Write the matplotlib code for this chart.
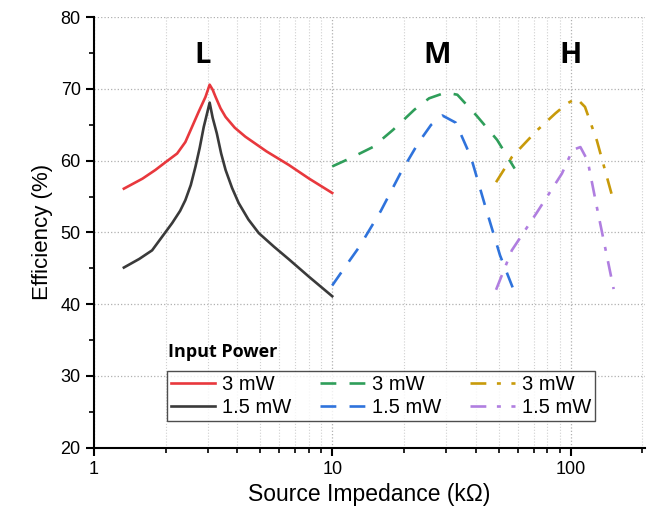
import numpy as np
import matplotlib.pyplot as plt
from matplotlib.ticker import LogLocator, NullFormatter, MultipleLocator, FixedLocator, FixedFormatter

plt.rcParams['font.family'] = ['Liberation Sans', 'DejaVu Sans']

# L band
l_x = [1.336, 1.6, 1.81, 2.0, 2.235, 2.42, 2.58, 2.75, 2.94, 3.06, 3.15, 3.24, 3.4, 3.57, 3.9, 4.32, 5.3, 6.58, 8.0, 10.0]
l_3mw = [56.1, 57.5, 58.7, 59.8, 61.0, 62.6, 64.7, 66.8, 68.9, 70.6, 69.9, 68.9, 67.3, 66.1, 64.6, 63.35, 61.3, 59.4, 57.5, 55.5]
l_x2 = [1.336, 1.55, 1.755, 2.13, 2.3, 2.42, 2.55, 2.67, 2.78, 2.89, 2.98, 3.06, 3.15, 3.28, 3.42, 3.57,
        3.8, 4.05, 4.45, 4.92, 5.7, 6.58, 8.0, 10.0]
l_15mw = [45.1, 46.3, 47.5, 51.3, 53.0, 54.5, 56.6, 59.2, 61.8, 64.7, 66.5, 68.1, 66.0, 63.8, 61.0, 58.7,
          56.2, 54.1, 51.8, 49.9, 48.0, 46.25, 43.8, 41.1]

# M band
m_x = [10.0, 12.0, 14.8, 18.0, 22.1, 25.5, 29.9, 33.5, 40.3, 49.2, 58.3]
m_3mw = [59.2, 60.4, 61.9, 64.3, 67.1, 68.7, 69.5, 69.2, 66.3, 62.9, 58.9]
m_x2 = [10.0, 11.5, 13.0, 16.0, 19.3, 23.0, 26.0, 29.0, 33.0, 38.2, 44.0, 50.6, 58.3]
m_15mw = [42.6, 45.5, 48.0, 53.0, 58.2, 62.5, 65.0, 66.3, 65.3, 60.5, 53.5, 46.8, 41.6]

# H band
h_x = [48.7, 56.7, 72.2, 86.4, 97.0, 106.0, 115.0, 129.0, 151.7]
h_3mw = [57.0, 60.5, 64.2, 66.6, 68.0, 68.7, 67.5, 62.8, 54.3]
h_x2 = [48.7, 56.7, 72.0, 92.0, 102.0, 110.0, 118.0, 129.0, 151.7]
h_15mw = [42.0, 47.5, 52.7, 58.2, 61.5, 61.9, 60.0, 53.5, 42.1]

band_labels = ['L', 'M', 'H']
band_pos = [2.85, 27.5, 100.0]
xtick_vals = [1, 10, 100]
xtick_labels = ['1', '10', '100']

fig = plt.figure(figsize=(6.52, 5.08), dpi=100)
ax = fig.add_axes([0.144, 0.119, 0.845, 0.847])

lw = 1.9
ax.plot(l_x, l_3mw, color='#e8383d', lw=lw, label='3 mW')
ax.plot(l_x2, l_15mw, color='#3a3a3a', lw=lw, label='1.5 mW')
ax.plot(m_x, m_3mw, color='#2f9e5a', lw=lw, dashes=(6, 5), label='3 mW')
ax.plot(m_x2, m_15mw, color='#2f73dc', lw=lw, dashes=(6, 5), label='1.5 mW')
ax.plot(h_x, h_3mw, color='#c89a0a', lw=lw, dashes=(6, 4, 1.5, 4), label='3 mW')
ax.plot(h_x2, h_15mw, color='#b07ee0', lw=lw, dashes=(6, 4, 1.5, 4), label='1.5 mW')

ax.set_xscale('log')
ax.set_xlim(1, 205)
ax.set_ylim(20, 80)

ax.xaxis.set_major_locator(FixedLocator(xtick_vals))
ax.xaxis.set_major_formatter(FixedFormatter(xtick_labels))
ax.xaxis.set_minor_locator(LogLocator(base=10, subs=np.arange(2, 10)))
ax.xaxis.set_minor_formatter(NullFormatter())
ax.yaxis.set_major_locator(MultipleLocator(10))
ax.yaxis.set_minor_locator(MultipleLocator(5))

ax.tick_params(which='major', direction='out', length=6, width=1.5, labelsize=13)
ax.tick_params(which='minor', direction='out', length=3.5, width=1.2)

for s in ['top', 'right']:
    ax.spines[s].set_visible(False)
for s in ['left', 'bottom']:
    ax.spines[s].set_linewidth(1.5)

ax.grid(which='major', axis='both', color='#b0b0b0', ls=':', lw=0.9)
ax.grid(which='minor', axis='x', color='#d0d0d0', ls=':', lw=0.8)
ax.set_axisbelow(True)

ax.set_xlabel('Source Impedance (kΩ)', fontsize=16.5, labelpad=4)
ax.set_ylabel('Efficiency (%)', fontsize=16, labelpad=5)

for lab, xp in zip(band_labels, band_pos):
    ax.text(xp, 74.7, lab, fontsize=21, fontweight='bold', family=['Open Sans', 'DejaVu Sans'],
            ha='center', va='center')

leg = ax.legend(ncol=3, loc='lower left', bbox_to_anchor=(0.132, 0.062),
                fontsize=14.5, handlelength=2.2, handletextpad=0.35, columnspacing=1.45,
                labelspacing=0.2, borderpad=0.2, borderaxespad=0, fancybox=False,
                frameon=True)
leg.get_frame().set_edgecolor('#222222')
leg.get_frame().set_linewidth(1.0)

ax.text(0.134, 0.222, 'Input Power', transform=ax.transAxes, fontsize=13,
        fontweight='bold', family=['Open Sans', 'DejaVu Sans'], ha='left', va='center')

fig.savefig('out.png', dpi=100)
